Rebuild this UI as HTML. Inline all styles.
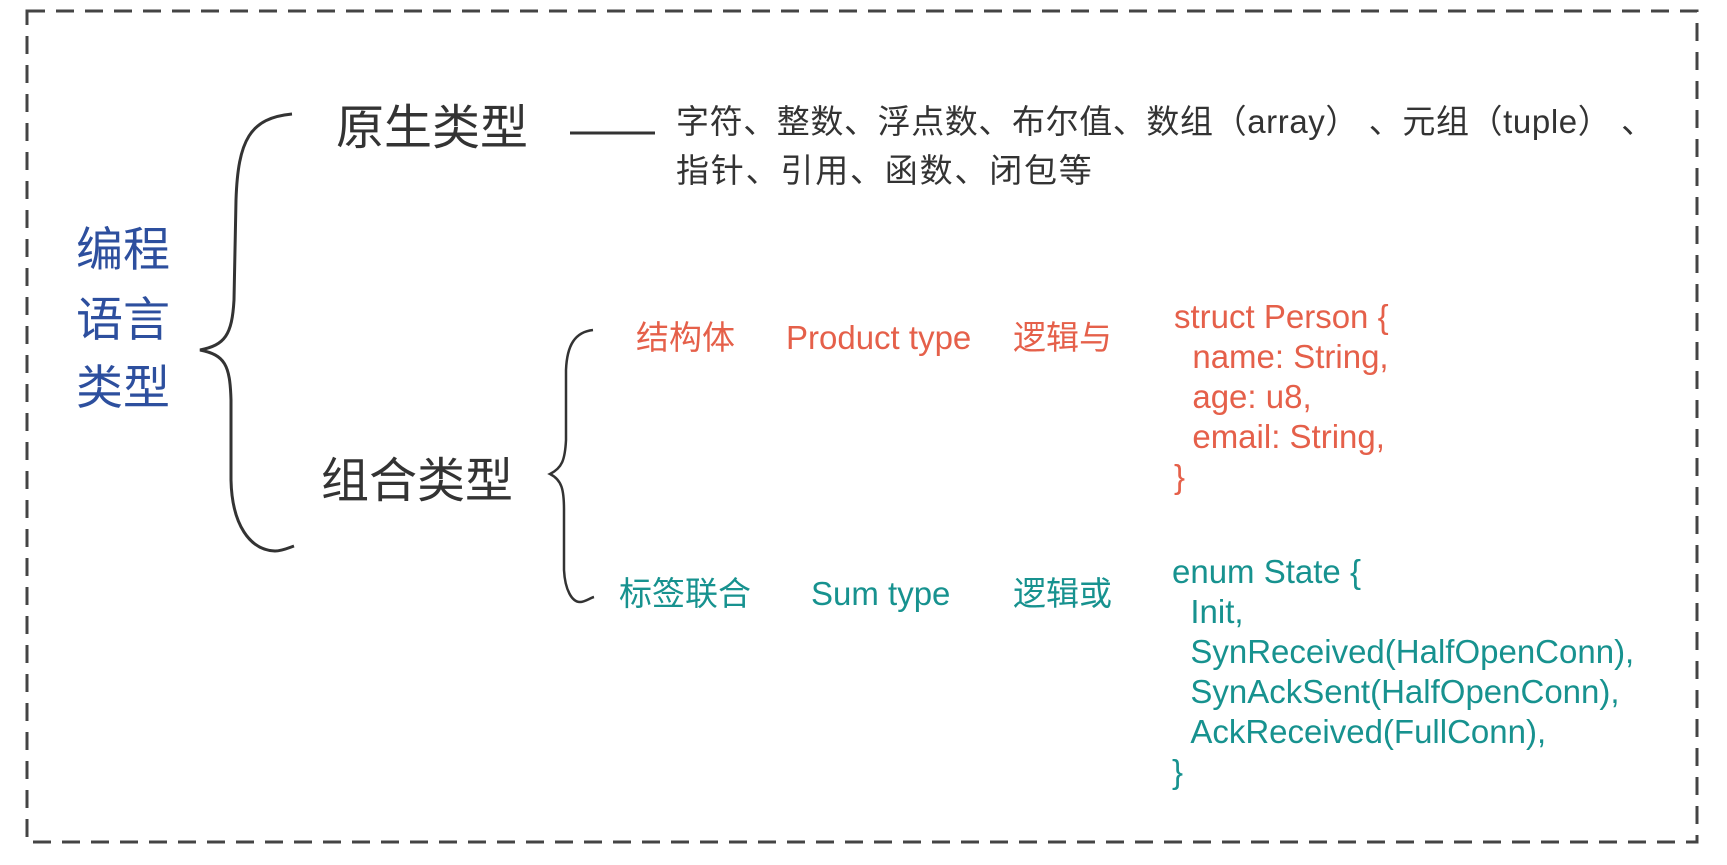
<!DOCTYPE html>
<html><head><meta charset="utf-8"><style>
html,body{margin:0;padding:0;background:#fff;}
body{width:1727px;height:865px;position:relative;overflow:hidden;font-family:"Liberation Sans","Noto Sans CJK SC",sans-serif;}
.t{position:absolute;white-space:nowrap;line-height:1;}
.b{color:#2d4f9e;font-size:47px;}
.g{color:#333;}
.r{color:#e5604a;}
.c{color:#17928f;}
</style></head><body>
<svg width="1727" height="865" style="position:absolute;left:0;top:0">
<rect x="27" y="11" width="1670" height="831" fill="none" stroke="#444" stroke-width="3" stroke-dasharray="18,11"/>
<path d="M292 114 C250 118 238 140 236 200 L234 300 C232 335 225 345 200 350 C225 355 230 365 231 400 L231 480 C232 525 250 550 275 551 C282 551 288 548 294 546" fill="none" stroke="#333" stroke-width="3"/>
<line x1="570" y1="133" x2="655" y2="133" stroke="#333" stroke-width="3"/>
<path d="M593 330 C575 332 567 345 566 370 L566 440 C565 460 562 468 550 474 C562 480 564 490 564 510 L564 570 C565 590 572 602 580 602 C585 602 590 598 594 597" fill="none" stroke="#333" stroke-width="2.5"/>
</svg>
<div class="t b" style="left:76px;top:226px">编程</div>
<div class="t b" style="left:76px;top:296px">语言</div>
<div class="t b" style="left:76px;top:364px">类型</div>
<div class="t g" style="left:336px;top:105px;font-size:48px">原生类型</div>
<div class="t g" style="left:321px;top:458px;font-size:48px">组合类型</div>
<div class="t g" style="left:676px;top:105px;font-size:33px;letter-spacing:0.6px">字符、整数、浮点数、布尔值、数组（array） 、元组（tuple） 、</div>
<div class="t g" style="left:676px;top:154px;font-size:33px;letter-spacing:1.8px">指针、引用、函数、闭包等</div>
<div class="t r" style="left:636px;top:321px;font-size:33px">结构体</div>
<div class="t r" style="left:786px;top:321px;font-size:33px">Product type</div>
<div class="t r" style="left:1013px;top:321px;font-size:33px">逻辑与</div>
<div class="t c" style="left:619px;top:577px;font-size:33px">标签联合</div>
<div class="t c" style="left:811px;top:577px;font-size:33px">Sum type</div>
<div class="t c" style="left:1013px;top:577px;font-size:33px">逻辑或</div>
<div class="t r" style="left:1174px;top:297px;font-size:33px;line-height:40px">struct Person {<br>&nbsp;&nbsp;name: String,<br>&nbsp;&nbsp;age: u8,<br>&nbsp;&nbsp;email: String,<br>}</div>
<div class="t c" style="left:1172px;top:552px;font-size:33px;line-height:40px">enum State {<br>&nbsp;&nbsp;Init,<br>&nbsp;&nbsp;SynReceived(HalfOpenConn),<br>&nbsp;&nbsp;SynAckSent(HalfOpenConn),<br>&nbsp;&nbsp;AckReceived(FullConn),<br>}</div>
</body></html>
